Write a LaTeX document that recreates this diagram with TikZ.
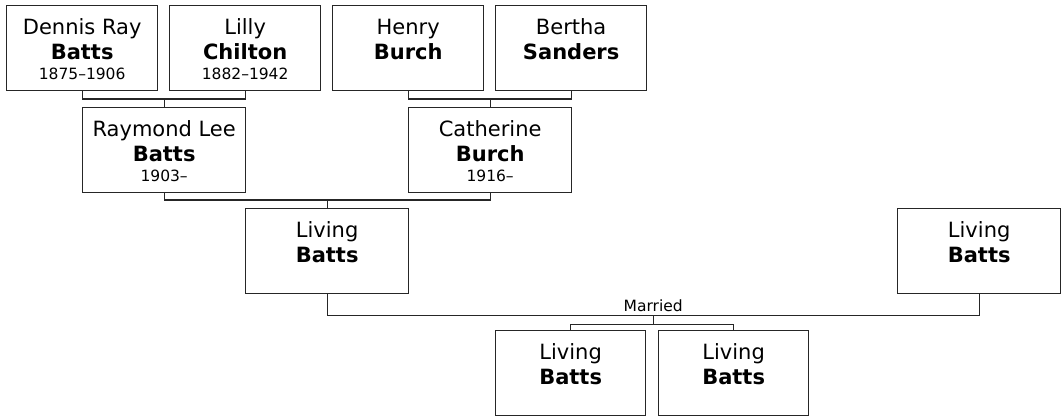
\documentclass[tikz,border=0pt]{standalone}
\usepackage{fontspec}
\usetikzlibrary{calc}
\setmainfont{DejaVu Sans}
\newcommand{\personlines}[4]{%
  \parbox[t][85pt][t]{#1}{\centering
    \fontsize{21}{25}\selectfont\rule{0pt}{29pt}#2\par
    \textbf{#3}\par
    \fontsize{15.5}{20}\selectfont #4\par}}

\begin{document}
\begin{tikzpicture}[x=1pt,y=-1pt,line join=miter,
  person/.style={draw=black!85,line width=1.3pt,inner sep=0pt,anchor=north west},
  link/.style={draw=black!85,line width=1.3pt}]
  \useasboundingbox (0,0) rectangle (1062,418);

  % grandparents
  \node[person] (dennis) at (6,5) {\personlines{151pt}{Dennis Ray}{Batts}{1875--1906}};
  \node[person] (lilly) at (169,5) {\personlines{151pt}{Lilly}{Chilton}{1882--1942}};
  \node[person] (henry) at (332,5) {\personlines{151pt}{Henry}{Burch}{}};
  \node[person] (bertha) at (495,5) {\personlines{151pt}{Bertha}{Sanders}{}};

  % parents
  \node[person] (raymond) at (82,107) {\personlines{163pt}{Raymond Lee}{Batts}{1903--}};
  \node[person] (catherine) at (408,107) {\personlines{163pt}{Catherine}{Burch}{1916--}};

  % couple
  \node[person] (living) at (245,208) {\personlines{163pt}{Living}{Batts}{}};
  \node[person] (spouse) at (897,208) {\personlines{163pt}{Living}{Batts}{}};

  % children
  \node[person] (child1) at (495,330) {\personlines{150pt}{Living}{Batts}{}};
  \node[person] (child2) at (658,330) {\personlines{150pt}{Living}{Batts}{}};

  \coordinate (battsjoin) at ($(raymond.north)+(0,-8)$);
  \coordinate (burchjoin) at ($(catherine.north)+(0,-8)$);
  \coordinate (parentsjoin) at ($(living.north)+(0,-8)$);
  \coordinate (marriage) at ($($(living.south)!.5!(spouse.south)$)+(0,21)$);
  \coordinate (kidsjoin) at ($(marriage)+(0,9)$);

  \draw[link] (dennis.south) |- (battsjoin) -| (lilly.south);
  \draw[link] (battsjoin) -- (raymond.north);
  \draw[link] (henry.south) |- (burchjoin) -| (bertha.south);
  \draw[link] (burchjoin) -- (catherine.north);
  \draw[link] (raymond.south) |- (parentsjoin) -| (catherine.south);
  \draw[link] (parentsjoin) -- (living.north);
  \draw[link] (living.south) |- (marriage) -| (spouse.south);
  \node[above=3pt,inner sep=0pt,font=\fontsize{15.5}{18}\selectfont] (married) at (marriage) {Married};
  \draw[link] (marriage) -- (kidsjoin);
  \draw[link] (child1.north) |- (kidsjoin) -| (child2.north);
\end{tikzpicture}
\end{document}
